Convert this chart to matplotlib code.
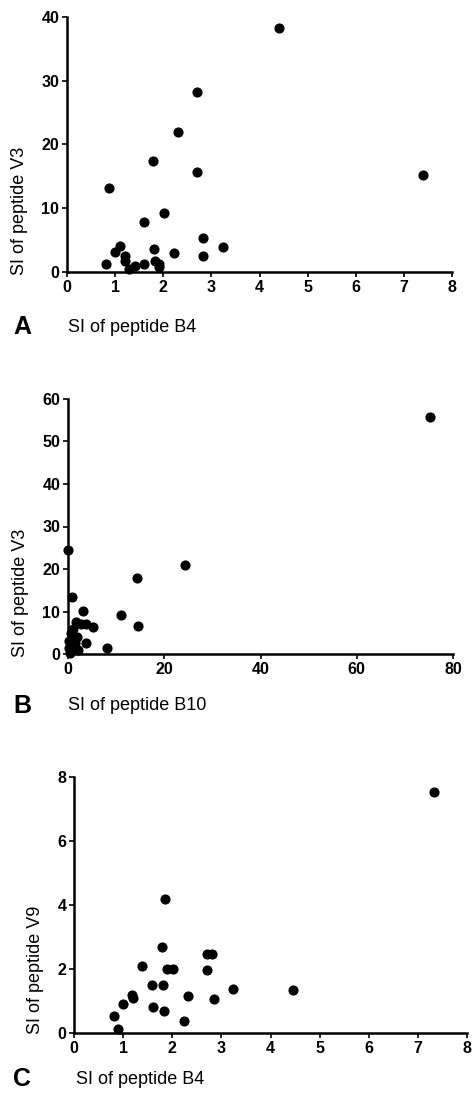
import matplotlib
matplotlib.use("Agg")
import matplotlib.pyplot as plt

plt.rcParams['font.family'] = ['Liberation Sans', 'DejaVu Sans']

# Panel A: SI of peptide B4 vs SI of peptide V3
xA = [4.40, 2.70, 2.30, 1.79, 2.71, 7.39, 0.87, 2.01, 1.60, 2.83, 3.24, 1.11, 1.00,
      1.81, 2.22, 2.83, 1.21, 1.20, 0.80, 1.29, 1.42, 1.61, 1.83, 1.92, 1.92]
yA = [38.3, 28.2, 21.9, 17.4, 15.7, 15.2, 13.1, 9.2, 7.8, 5.4, 3.9, 4.0, 3.1,
      3.6, 3.0, 2.5, 2.5, 1.8, 1.2, 0.5, 0.95, 1.3, 1.7, 1.3, 0.8]

# Panel B: SI of peptide B10 vs SI of peptide V3
xB = [75.2, 24.4, 14.3, 0.0, 0.9, 11.1, 14.5, 3.1, 1.7, 2.8, 3.8, 5.2, 3.7, 8.2,
      0.7, 1.4, 0.3, 2.1, 1.0, 1.9, 0.2, 0.5]
yB = [55.8, 21.0, 18.0, 24.5, 13.4, 9.1, 6.5, 10.2, 7.5, 7.0, 7.0, 6.4, 2.5, 1.3,
      4.9, 2.5, 1.3, 0.9, 6.0, 4.1, 3.0, 0.3]

# Panel C: SI of peptide B4 vs SI of peptide V9
xC = [7.32, 1.86, 1.80, 1.38, 2.71, 2.81, 1.90, 2.01, 2.71, 1.59, 1.82, 3.24, 4.45,
      1.19, 1.21, 2.33, 2.84, 1.00, 1.61, 1.83, 0.81, 2.23, 0.90]
yC = [7.54, 4.18, 2.68, 2.10, 2.46, 2.46, 1.99, 1.99, 1.97, 1.49, 1.49, 1.37, 1.35,
      1.20, 1.10, 1.17, 1.07, 0.92, 0.81, 0.68, 0.53, 0.39, 0.13]

xticksA = [0, 1, 2, 3, 4, 5, 6, 7, 8]
yticksA = [0, 10, 20, 30, 40]
xticksB = [0, 20, 40, 60, 80]
yticksB = [0, 10, 20, 30, 40, 50, 60]
xticksC = [0, 1, 2, 3, 4, 5, 6, 7, 8]
yticksC = [0, 2, 4, 6, 8]

W, H = 472, 1095
fig = plt.figure(figsize=(W / 100, H / 100), dpi=100)


def px_axes(left, right, top, bottom):
    return fig.add_axes([left / W, 1 - bottom / H, (right - left) / W, (bottom - top) / H])


def style(ax, xt, yt):
    ax.set_xlim(xt[0], xt[-1])
    ax.set_ylim(yt[0], yt[-1])
    ax.set_xticks(xt)
    ax.set_yticks(yt)
    for s in ['top', 'right']:
        ax.spines[s].set_visible(False)
    for s in ['left', 'bottom']:
        ax.spines[s].set_linewidth(1.8)
    ax.tick_params(direction='out', length=3.5, width=1.2, labelsize=11.5, pad=2)
    for lab in ax.get_xticklabels() + ax.get_yticklabels():
        lab.set_fontweight('bold')


panels = [
    (xA, yA, xticksA, yticksA, (67, 452, 17, 272), 'A', 'SI of peptide B4', 68, 327,
     'SI of peptide V3', 20, 211),
    (xB, yB, xticksB, yticksB, (68, 453, 399, 654), 'B', 'SI of peptide B10', 68, 706,
     'SI of peptide V3', 21, 593),
    (xC, yC, xticksC, yticksC, (74, 467, 777, 1033), 'C', 'SI of peptide B4', 76, 1079,
     'SI of peptide V9', 35, 970),
]

for x, y, xt, yt, box, letter, xlabel, xlx, xly, ylabel, ylx, yly in panels:
    ax = px_axes(*box)
    ax.plot(x, y, 'o', color='black', markersize=6.3, clip_on=False, zorder=3)
    style(ax, xt, yt)
    fig.text(22 / W, 1 - xly / H, letter, fontsize=18, fontweight='bold',
             ha='center', va='center')
    fig.text(xlx / W, 1 - xly / H, xlabel, fontsize=13, ha='left', va='center')
    fig.text(ylx / W, 1 - yly / H, ylabel, fontsize=13, rotation=90,
             ha='center', va='center')

fig.savefig('out.png', dpi=100)
